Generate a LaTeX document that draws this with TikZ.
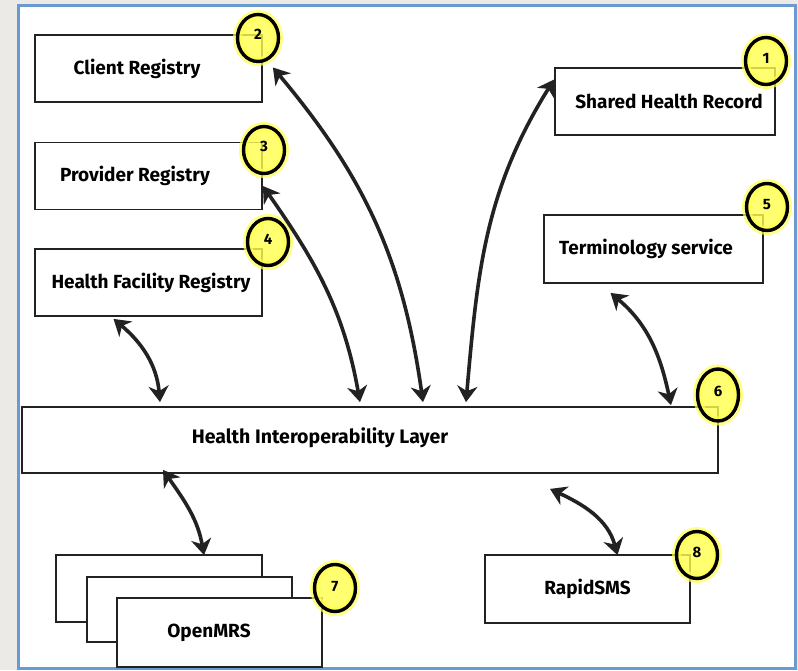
\documentclass[tikz,border=0pt]{standalone}
\usepackage{fontspec}
\setmainfont{Fira Sans}
\usetikzlibrary{arrows.meta,calc,shapes.geometric}
\definecolor{ink}{HTML}{222222}
\definecolor{frameblue}{HTML}{6A9AD0}
\definecolor{bggray}{HTML}{ECEAE6}
\definecolor{hl}{HTML}{FFFF4D}
\begin{document}
\begin{tikzpicture}[x=1pt,y=-1pt,
  boxstyle/.style={draw=ink, line width=1.8pt, fill=white, inner sep=0pt,
    font=\fontsize{19}{22}\selectfont\bfseries},
  badge/.style={shape=ellipse, draw=black, line width=3.4pt, fill=hl,
    fill opacity=0.8, text opacity=1, inner sep=0pt,
    minimum width=41pt, minimum height=47pt,
    font=\fontsize{15}{16}\selectfont\bfseries,
    preaction={draw=hl, line width=9pt, draw opacity=0.7}},
  conn/.style={draw=ink, line width=3.6pt,
    {Stealth[length=16pt,width=20pt,inset=5pt]}-{Stealth[length=16pt,width=20pt,inset=5pt]}},
  lbl/.style={font=\fontsize{19.5}{22}\selectfont\bfseries, inner sep=0pt}
]
\useasboundingbox (0,0) rectangle (798,670);
\fill[bggray] (0,0) rectangle (798,670);
\draw[frameblue, line width=3pt, fill=white] (18,5) rectangle (795,668);

% boxes
\node[boxstyle, minimum width=227pt, minimum height=67pt] (cr) at (148.5,68.5) {\hspace*{-23pt}Client Registry};
\node[boxstyle, minimum width=227pt, minimum height=67pt] (pr) at (148.5,176) {\hspace*{-27pt}Provider Registry};
\node[boxstyle, minimum width=227pt, minimum height=67pt] (hf) at (148.5,282.5) {\hspace*{5pt}Health Facility Registry};
\node[boxstyle, minimum width=220pt, minimum height=67pt] (shr) at (665,101.5) {\hspace*{8pt}Shared Health Record};
\node[boxstyle, minimum width=219pt, minimum height=68pt] (ts) at (653.5,249) {\hspace*{-15pt}Terminology service};
\node[boxstyle, minimum width=696pt, minimum height=66pt] (hil) at (370,440) {};
\node[lbl] (hiltext) at (320,438) {Health Interoperability Layer};
\node[boxstyle, minimum width=206pt, minimum height=67pt] (om1) at (159,588.5) {};
\node[boxstyle, minimum width=205pt, minimum height=65pt] (om2) at (189.5,609.5) {};
\node[boxstyle, minimum width=205pt, minimum height=69pt] (om3) at (219.5,632.5) {\hspace*{-21pt}OpenMRS};
\node[boxstyle, minimum width=205pt, minimum height=68pt] (rs) at (587.5,589) {RapidSMS};

% badges
\node[badge] (b1) at (766,61) {\raisebox{5pt}{1}};
\node[badge] (b2) at (258,38) {\raisebox{7pt}{2}};
\node[badge] (b3) at (264,150) {\raisebox{7pt}{3}};
\node[badge] (b4) at (268,242) {\raisebox{6pt}{4}};
\node[badge] (b5) at (767,207) {\raisebox{6pt}{5}};
\node[badge, minimum height=52pt] (b6) at (718,395) {\raisebox{8pt}{6}};
\node[badge] (b7) at (335,588) {\raisebox{3pt}{7}};
\node[badge] (b8) at (697,555) {\raisebox{5pt}{8}};

% connectors
\draw[conn] ([xshift=10pt,yshift=1pt]cr.east) to[out=-50,in=98] ([xshift=53pt,yshift=4pt]hil.north);
\draw[conn] ([yshift=-10pt]pr.east) to[out=-55,in=100] ([xshift=-10pt,yshift=4pt]hil.north);
\draw[conn] ([xshift=-35pt,yshift=-2pt]hf.south) to[out=-40,in=95] ([xshift=-210pt,yshift=4pt]hil.north);
\draw[conn] ([yshift=22pt]shr.west) to[out=-122,in=85] ([xshift=96pt,yshift=4pt]hil.north);
\draw[conn] ([xshift=-43pt,yshift=-9pt]ts.south) to[out=-40,in=102] ([xshift=301pt,yshift=1pt]hil.north);
\draw[conn] ([xshift=-207pt,yshift=4pt]hil.south) to[out=-55,in=100] ([xshift=45pt,yshift=-1pt]om1.north);
\draw[conn] ([xshift=180pt,yshift=-15pt]hil.south) to[out=-25,in=105] ([xshift=30pt,yshift=-1pt]rs.north);
\end{tikzpicture}
\end{document}
